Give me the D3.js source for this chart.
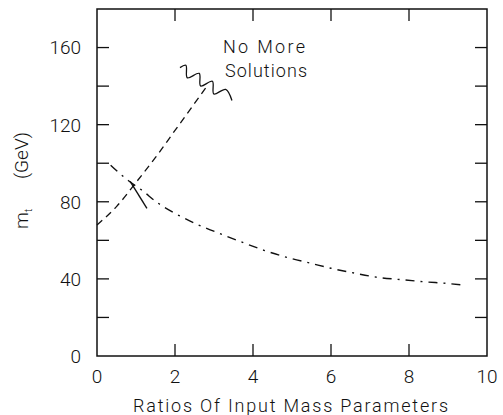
<!DOCTYPE html>
<html>
<head>
<meta charset="utf-8">
<script src="https://cdn.jsdelivr.net/npm/d3@7"></script>
<style>
  body { margin: 0; background: #fff; }
  text { font-family: Roboto, "Liberation Sans", Arial, sans-serif; font-weight: 300; fill: #111; }
</style>
</head>
<body>
<script>
// rising curve (dashed)
var riseX = [0, 0.5, 1, 1.5, 2, 2.5, 2.82];
var riseY = [68, 77.5, 90, 103, 117, 131, 140];

// falling curve (dash-dot)
var fallX = [0.35, 0.8, 1.15, 1.55, 2.0, 2.6, 3.15, 3.75, 4.3, 4.9, 5.5, 6.0, 6.6, 7.2, 7.8, 8.4, 9.0, 9.4];
var fallY = [99, 91, 86, 79.5, 74, 68, 63.5, 58.8, 54.7, 51, 48, 45.5, 43, 40.8, 39.6, 38.5, 37.6, 36.8];

// short solid stroke through the crossing
var markX = [0.85, 1.28];
var markY = [90.6, 76.6];

// squiggle at the end of the dashed curve
var waveX = [2.128, 2.279, 2.315, 2.621, 2.656, 2.959, 2.995, 3.30, 3.46];
var waveY = [149.6, 150.8, 144.3, 146.6, 140.1, 142.5, 135.9, 138.3, 132.5];

var xTicks = [0, 2, 4, 6, 8, 10];
var yTicks = [0, 40, 80, 120, 160];
var yMinor = [20, 40, 60, 80, 100, 120, 140, 160];

var margin = { top: 9, right: 16, bottom: 59, left: 97 },
    width = 503 - margin.left - margin.right,
    height = 415 - margin.top - margin.bottom;

var svg = d3.select("body").append("svg")
    .attr("width", 503)
    .attr("height", 415)
    .append("g")
    .attr("transform", "translate(" + margin.left + "," + margin.top + ")");

var x = d3.scaleLinear().domain([0, 10]).range([0, width]);
var y = d3.scaleLinear().domain([0, 180]).range([height, 0]);

var tk = 12;

// frame
svg.append("rect")
    .attr("width", width).attr("height", height)
    .attr("fill", "none").attr("stroke", "#111").attr("stroke-width", 1.5);

// x ticks, bottom and top, pointing inward
var inner = xTicks.slice(1, -1);
svg.selectAll(".xb").data(inner).enter().append("line")
    .attr("x1", d => x(d)).attr("x2", d => x(d))
    .attr("y1", height).attr("y2", height - tk)
    .attr("stroke", "#111").attr("stroke-width", 1.3);
svg.selectAll(".xt").data(inner).enter().append("line")
    .attr("x1", d => x(d)).attr("x2", d => x(d))
    .attr("y1", 0).attr("y2", tk)
    .attr("stroke", "#111").attr("stroke-width", 1.3);

// y ticks, left and right
svg.selectAll(".yl").data(yMinor).enter().append("line")
    .attr("x1", 0).attr("x2", tk)
    .attr("y1", d => y(d)).attr("y2", d => y(d))
    .attr("stroke", "#111").attr("stroke-width", 1.3);
svg.selectAll(".yr").data(yMinor).enter().append("line")
    .attr("x1", width).attr("x2", width - tk)
    .attr("y1", d => y(d)).attr("y2", d => y(d))
    .attr("stroke", "#111").attr("stroke-width", 1.3);

// tick labels
svg.selectAll(".xl").data(xTicks).enter().append("text")
    .attr("x", d => x(d)).attr("y", height + 27)
    .attr("text-anchor", "middle")
    .style("font-size", "19px")
    .text(d => d);
svg.selectAll(".ylab").data(yTicks).enter().append("text")
    .attr("x", -16).attr("y", d => y(d))
    .attr("dy", "0.36em")
    .attr("text-anchor", "end")
    .style("font-size", "19px")
    .text(d => d);

// axis titles
svg.append("text")
    .attr("x", 133 - margin.left).attr("y", 412 - margin.top)
    .attr("textLength", 315).attr("lengthAdjust", "spacing")
    .style("font-size", "18px")
    .text("Ratios Of Input Mass Parameters");

var ylab = svg.append("text")
    .attr("transform", "translate(" + (28 - margin.left) + "," + (229 - margin.top) + ") rotate(-90)")
    .style("font-size", "19px");
ylab.append("tspan").text("m");
ylab.append("tspan").attr("dy", 4).style("font-size", "11px").text("t");

svg.append("text")
    .attr("transform", "translate(" + (28 - margin.left) + "," + (179 - margin.top) + ") rotate(-90)")
    .style("font-size", "19px")
    .text("(GeV)");

// annotation
svg.append("text")
    .attr("x", 223 - margin.left).attr("y", 53 - margin.top)
    .attr("textLength", 82).attr("lengthAdjust", "spacing")
    .style("font-size", "18px")
    .text("No More");
svg.append("text")
    .attr("x", 225 - margin.left).attr("y", 77 - margin.top)
    .attr("textLength", 82).attr("lengthAdjust", "spacing")
    .style("font-size", "18px")
    .text("Solutions");

// curves
var line = d3.line()
    .x(d => x(d[0]))
    .y(d => y(d[1]))
    .curve(d3.curveMonotoneX);

svg.append("path")
    .datum(d3.zip(riseX, riseY))
    .attr("d", line)
    .attr("fill", "none").attr("stroke", "#111").attr("stroke-width", 1.3)
    .attr("stroke-dasharray", "7,5");

svg.append("path")
    .datum(d3.zip(fallX, fallY))
    .attr("d", line)
    .attr("fill", "none").attr("stroke", "#111").attr("stroke-width", 1.4)
    .attr("stroke-dasharray", "9,6,2,6");

svg.append("path")
    .datum(d3.zip(markX, markY))
    .attr("d", d3.line().x(d => x(d[0])).y(d => y(d[1])))
    .attr("fill", "none").attr("stroke", "#111").attr("stroke-width", 1.4);

svg.append("path")
    .datum(d3.zip(waveX, waveY))
    .attr("d", d3.line().x(d => x(d[0])).y(d => y(d[1])).curve(d3.curveCatmullRom))
    .attr("fill", "none").attr("stroke", "#111").attr("stroke-width", 1.3);
</script>
</body>
</html>
